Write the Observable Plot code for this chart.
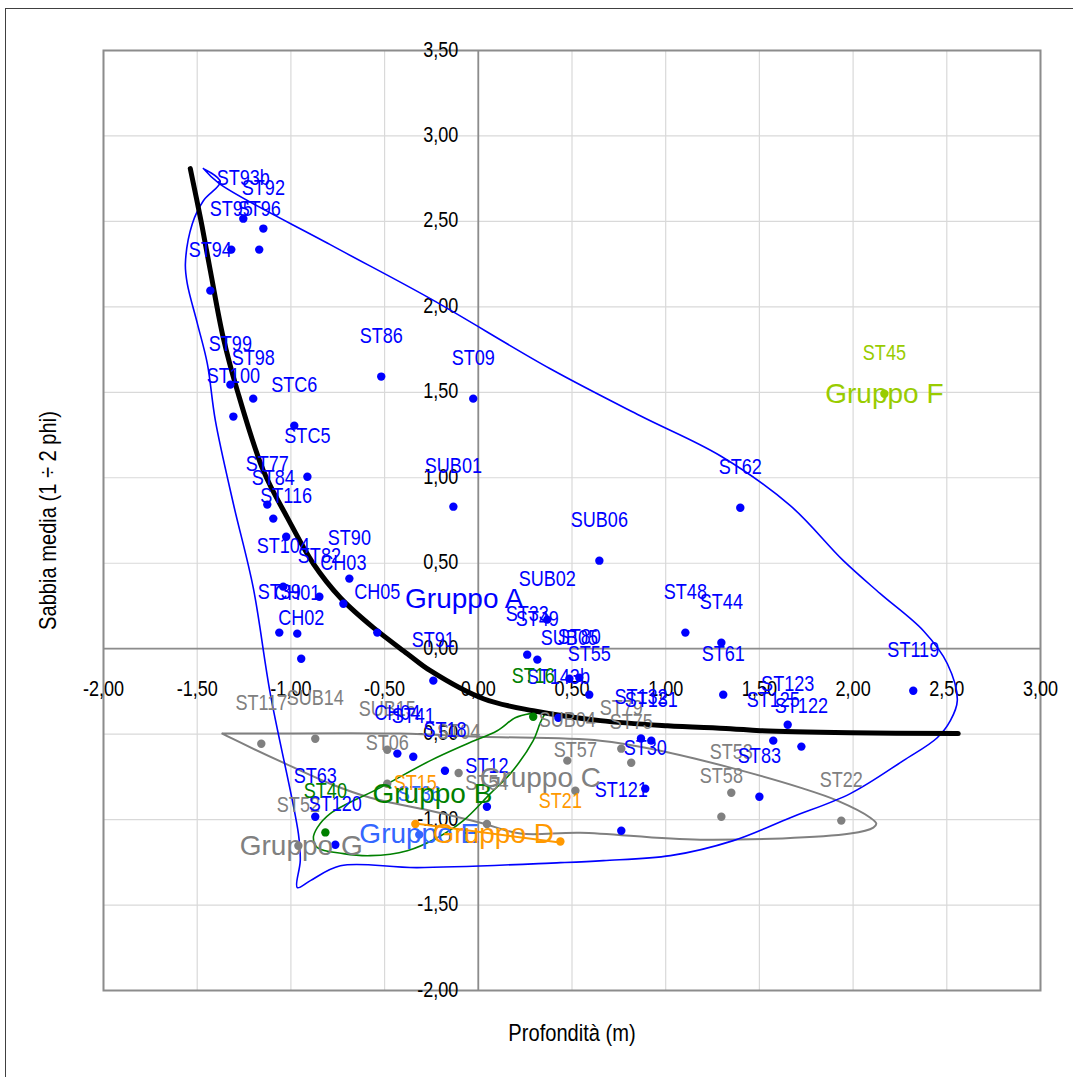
<!DOCTYPE html>
<html><head><meta charset="utf-8">
<script src="https://cdn.jsdelivr.net/npm/d3@7"></script>
<script src="https://cdn.jsdelivr.net/npm/@observablehq/plot@0.6"></script>
<style>
body{margin:0;background:#fff;}
#wrap{position:relative;width:1073px;height:1077px;overflow:hidden;}
#border{position:absolute;left:5px;top:8px;width:1100px;height:1100px;border-left:1.5px solid #404040;border-top:1.5px solid #404040;pointer-events:none;}
#wrap svg{position:absolute;left:0;top:0;}
</style></head><body><div id="wrap"><div id="border"></div></div>
<script>
// ---- axes ----
const xTicks = [-2,-1.5,-1,-0.5,0,0.5,1,1.5,2,2.5,3];
const xTickLabels = ["-2,00","-1,50","-1,00","-0,50","0,00","0,50","1,00","1,50","2,00","2,50","3,00"];
const yTicks = [-2,-1.5,-1,-0.5,0,0.5,1,1.5,2,2.5,3,3.5];
const yTickLabels = ["-2,00","-1,50","-1,00","-0,50","0,00","0,50","1,00","1,50","2,00","2,50","3,00","3,50"];
const xTitle = "Profondità (m)";
const yTitle = "Sabbia media (1 ÷ 2 phi)";

// ---- Gruppo A (blue) ----
const aNames = ["ST93b","ST92","ST95","ST96","ST94","ST99","ST98","ST100","STC6","ST86","ST09","STC5","SUB01","ST77","ST84","ST116","ST104","ST90","ST82","CH03","ST39","CH01","CH05","CH02","ST91","SUB06","SUB02","ST62","ST48","ST44","ST33","ST49","SUB05","ST80","ST55","ST143b","ST61","ST119","ST132","ST131","ST123","ST125","ST122","ST83","ST30","ST121","CH04","ST41","ST18","ST12","ST63","ST120"];
const aX = [-1.254,-1.147,-1.318,-1.169,-1.430,-1.323,-1.201,-1.307,-0.982,-0.518,-0.027,-0.912,-0.133,-1.126,-1.094,-1.025,-1.041,-0.688,-0.848,-0.720,-1.062,-0.966,-0.539,-0.945,-0.240,0.646,0.368,1.398,1.105,1.297,0.261,0.315,0.486,0.539,0.592,0.427,1.307,2.321,0.868,0.923,1.651,1.574,1.724,1.500,0.891,0.763,-0.432,-0.347,-0.178,0.046,-0.870,-0.763];
const aY = [2.516,2.458,2.335,2.335,2.095,1.545,1.463,1.358,1.305,1.592,1.463,1.006,0.831,0.843,0.761,0.655,0.363,0.410,0.304,0.263,0.094,0.088,0.094,-0.059,-0.187,0.515,0.170,0.825,0.094,0.035,-0.035,-0.064,-0.176,-0.170,-0.269,-0.404,-0.269,-0.246,-0.525,-0.538,-0.445,-0.538,-0.573,-0.866,-0.819,-1.065,-0.614,-0.632,-0.714,-0.925,-0.983,-1.147];

// ---- Gruppo C / G (grey) ----
const cNames = ["ST117","SUB14","SUB15","ST06","ST04","ST54","SUB04","ST57","ST79","ST75","ST53","ST58","ST22","ST52"];
const cX = [-1.158,-0.870,-0.486,-0.486,-0.105,0.046,0.475,0.518,0.763,0.816,1.350,1.297,1.937,-0.960];
const cY = [-0.556,-0.527,-0.591,-0.790,-0.727,-1.026,-0.655,-0.831,-0.585,-0.667,-0.843,-0.983,-1.006,-1.153];

// ---- Gruppo B (green) ----
const bNames = ["ST16","ST40"];
const bX = [0.293,-0.816];
const bY = [-0.398,-1.075];

// ---- Gruppo D (orange) ----
const dNames = ["ST15","ST21"];
const dX = [-0.336,0.438];
const dY = [-1.026,-1.128];

// ---- Gruppo E (light blue) ----
const eNames = ["ST36"];
const eX = [-0.315];
const eY = [-1.088];

// ---- Gruppo F (yellow-green) ----
const fNames = ["ST45"];
const fX = [2.167];
const fY = [1.492];

// ---- group hull outlines ----
const hullAX = [-1.467,-1.382,-0.790,-0.256,0.384,0.864,1.291,1.665,1.948,2.145,2.375,2.503,2.556,2.519,2.449,2.268,1.985,1.665,1.361,1.025,0.667,0.438,-0.326,-0.736,-0.896,-0.966,-0.950,-0.960,-1.110,-1.201,-1.307,-1.403,-1.446,-1.499,-1.553,-1.563,-1.526,-1.467,-1.377,-1.467];
const hullAY = [2.809,2.721,2.364,2.048,1.638,1.363,1.129,0.837,0.515,0.322,0.105,-0.088,-0.304,-0.421,-0.521,-0.655,-0.848,-0.989,-1.123,-1.211,-1.240,-1.252,-1.281,-1.270,-1.357,-1.398,-1.240,-1.082,-0.263,0.357,0.848,1.334,1.668,1.902,2.136,2.253,2.487,2.621,2.733,2.809];
const hullCX = [-1.366,-1.190,-0.416,0.011,0.651,0.971,1.345,1.718,1.916,2.092,2.124,2.108,1.985,1.185,0.544,0.224,0.011,-0.256,-0.576,-0.790,-1.041,-1.323,-1.366];
const hullCY = [-0.497,-0.497,-0.497,-0.515,-0.538,-0.597,-0.696,-0.813,-0.889,-0.989,-1.024,-1.047,-1.082,-1.118,-1.077,-1.082,-1.018,-0.948,-0.872,-0.790,-0.667,-0.521,-0.497];
const hullBX = [0.358,0.277,0.197,0.101,-0.059,-0.256,-0.523,-0.790,-0.859,-0.880,-0.859,-0.720,-0.576,-0.379,-0.219,-0.080,0.064,0.171,0.293,0.331,0.358];
const hullBY = [-0.374,-0.380,-0.404,-0.480,-0.556,-0.655,-0.813,-0.965,-1.047,-1.106,-1.164,-1.199,-1.211,-1.182,-1.106,-1.006,-0.848,-0.731,-0.538,-0.433,-0.374];
const hullDX = [-0.345,0.445];
const hullDY = [-1.022,-1.135];

// ---- trend curve ----
const trendX = [-1.537,-1.483,-1.430,-1.361,-1.286,-1.147,-1.019,-0.880,-0.736,-0.560,-0.379,-0.256,0.027,0.293,0.651,1.009,1.345,1.505,1.985,2.561];
const trendY = [2.809,2.522,2.212,1.820,1.510,1.042,0.767,0.497,0.298,0.123,-0.029,-0.129,-0.293,-0.363,-0.421,-0.451,-0.468,-0.480,-0.492,-0.497];

// ---- group labels ----
const grpNames = ["Gruppo A","Gruppo B","Gruppo C","Gruppo E","Gruppo D","Gruppo F","Gruppo G"];
const grpX = [-0.075,-0.245,0.331,-0.315,0.080,2.167,-0.945];
const grpY = [0.293,-0.848,-0.755,-1.082,-1.082,1.492,-1.153];
const grpColors = ["#0000ff","#008000","#808080","#3366ff","#ff9900","#99cc00","#808080"];

// ---- build tables ----
const rows = (names, xs, ys, color) => names.map((n,i)=>({name:n, x:xs[i], y:ys[i], color}));
const pts = [
  ...rows(cNames,cX,cY,"#808080"),
  ...rows(aNames,aX,aY,"#0000ff"),
  ...rows(bNames,bX,bY,"#008000"),
  ...rows(eNames,eX,eY,"#3366ff"),
  ...rows(dNames,dX,dY,"#ff9900"),
  ...rows(fNames,fX,fY,"#99cc00")
];
const line = (xs, ys) => xs.map((x,i)=>({x, y:ys[i]}));
const groups = grpNames.map((n,i)=>({name:n, x:grpX[i], y:grpY[i], color:grpColors[i]}));

const font = "'Liberation Sans',Arial,sans-serif";

const chart = Plot.plot({
  width: 1073, height: 1077,
  marginLeft: 103, marginRight: 33, marginTop: 50, marginBottom: 87,
  style: {fontFamily: font, background: "transparent"},
  x: {domain: [-2, 3], axis: null},
  y: {domain: [-2, 3.5], axis: null},
  color: {type: "identity"},
  marks: [
    Plot.ruleX(xTicks, {stroke: "#d9d9d9", strokeWidth: 1.2}),
    Plot.ruleY(yTicks, {stroke: "#d9d9d9", strokeWidth: 1.2}),
    Plot.ruleX([0], {stroke: "#8c8c8c", strokeWidth: 1.8}),
    Plot.ruleY([0], {stroke: "#8c8c8c", strokeWidth: 1.8}),
    Plot.frame({stroke: "#8c8c8c", strokeWidth: 2}),
    Plot.text(xTicks, {x: d => d, y: () => 0, dy: 40, text: (d,i) => xTickLabels[i], fontSize: 22, fill: "#000"}),
    Plot.text(yTicks, {x: () => 0, y: d => d, dx: -20, dy: -1, textAnchor: "end", text: (d,i) => yTickLabels[i], fontSize: 22, fill: "#000"}),
    Plot.text([xTitle], {frameAnchor: "bottom", dy: 43, lineAnchor: "middle", text: d => d, fontSize: 24.5, fill: "#000"}),
    Plot.text([yTitle], {frameAnchor: "left", dx: -55, rotate: -90, textAnchor: "middle", lineAnchor: "middle", text: d => d, fontSize: 24.5, fill: "#000"}),
    Plot.line(line(hullCX, hullCY), {x: "x", y: "y", stroke: "#808080", strokeWidth: 2, curve: "catmull-rom"}),
    Plot.line(line(hullAX, hullAY), {x: "x", y: "y", stroke: "#0000ff", strokeWidth: 1.6, curve: "catmull-rom"}),
    Plot.line(line(hullBX, hullBY), {x: "x", y: "y", stroke: "#008000", strokeWidth: 1.6, curve: "catmull-rom"}),
    Plot.line(line(hullDX, hullDY), {x: "x", y: "y", stroke: "#ff9900", strokeWidth: 2}),
    Plot.line(line(trendX, trendY), {x: "x", y: "y", stroke: "#000", strokeWidth: 5, curve: "catmull-rom"}),
    Plot.dot(pts, {x: "x", y: "y", r: 4.2, fill: "color", stroke: "none"}),
    Plot.text(pts, {x: "x", y: "y", dy: -41, text: "name", fill: "color", fontSize: 22}),
    Plot.text(groups, {x: "x", y: "y", text: "name", fill: "color", fontSize: 28})
  ]
});
document.getElementById("wrap").appendChild(chart);

// Narrow the smaller texts horizontally (the reference uses a condensed face)
chart.querySelectorAll("text").forEach(el => {
  const fs = parseFloat(getComputedStyle(el).fontSize);
  if (fs < 26) {
    const w = el.getComputedTextLength();
    if (w > 0) {
      el.setAttribute("textLength", (w * 0.82).toFixed(2));
      el.setAttribute("lengthAdjust", "spacingAndGlyphs");
    }
  }
});
</script>
</body></html>
